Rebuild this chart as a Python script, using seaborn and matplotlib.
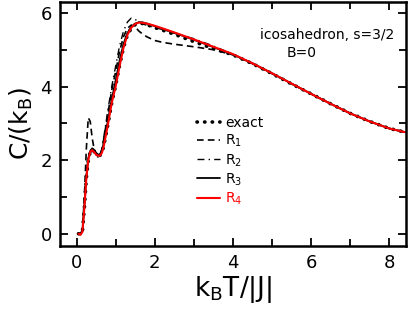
import numpy as np
import pandas as pd
import matplotlib
matplotlib.use("Agg")
import matplotlib.pyplot as plt
import seaborn as sns
from matplotlib.ticker import MultipleLocator
from matplotlib.lines import Line2D

T = [0.05, 0.1, 0.15, 0.2, 0.25, 0.3, 0.35, 0.4, 0.45, 0.5, 0.55, 0.6, 0.65, 0.7,
     0.8, 0.9, 1.0, 1.1, 1.2, 1.3, 1.4, 1.5, 1.6, 1.7, 1.8, 2.0, 2.2, 2.5, 3.0,
     3.5, 4.0, 4.5, 5.0, 5.5, 6.0, 6.5, 7.0, 7.5, 8.0, 8.4]

C_exact = [0.0, -0.02, 0.05, 0.7, 1.5, 2.0, 2.22, 2.28, 2.24, 2.17, 2.13, 2.13, 2.2,
           2.4, 2.95, 3.55, 4.02, 4.57, 5.05, 5.4, 5.58, 5.68, 5.72, 5.71, 5.68,
           5.6, 5.53, 5.42, 5.22, 5.03, 4.86, 4.62, 4.35, 4.07, 3.8, 3.53, 3.27,
           3.05, 2.86, 2.76]
C_R1 = [0.0, 0.0, 0.1, 1.0, 2.3, 3.15, 3.05, 2.6, 2.3, 2.15, 2.1, 2.15, 2.3, 2.6,
        3.25, 3.9, 4.4, 4.95, 5.35, 5.58, 5.67, 5.62, 5.5, 5.42, 5.35, 5.25, 5.2,
        5.15, 5.08, 5.0, 4.86, 4.62, 4.35, 4.07, 3.8, 3.53, 3.27, 3.05, 2.86, 2.76]
C_R2 = [0.0, 0.0, 0.08, 0.8, 1.6, 2.05, 2.2, 2.25, 2.2, 2.12, 2.08, 2.12, 2.3,
        2.65, 3.35, 4.0, 4.55, 5.1, 5.5, 5.75, 5.86, 5.82, 5.76, 5.7, 5.66, 5.6,
        5.55, 5.45, 5.3, 5.1, 4.88, 4.63, 4.36, 4.08, 3.8, 3.53, 3.27, 3.05,
        2.86, 2.76]
C_R3 = [0.0, -0.02, 0.06, 0.75, 1.55, 2.05, 2.25, 2.32, 2.28, 2.2, 2.15, 2.15,
        2.25, 2.5, 3.05, 3.65, 4.15, 4.7, 5.15, 5.45, 5.62, 5.71, 5.75, 5.74,
        5.71, 5.64, 5.57, 5.46, 5.27, 5.07, 4.87, 4.63, 4.36, 4.08, 3.8, 3.53,
        3.27, 3.05, 2.86, 2.76]
C_R4 = [0.0, -0.03, 0.05, 0.7, 1.5, 2.0, 2.22, 2.27, 2.22, 2.15, 2.12, 2.12, 2.2,
        2.4, 2.95, 3.55, 4.0, 4.55, 5.05, 5.4, 5.6, 5.7, 5.74, 5.73, 5.71, 5.65,
        5.58, 5.47, 5.28, 5.08, 4.88, 4.63, 4.36, 4.08, 3.8, 3.53, 3.27, 3.05,
        2.86, 2.76]

labels = ["exact", r"R$_1$", r"R$_2$", r"R$_3$", r"R$_4$"]

sns.set_theme(style="ticks")
plt.rcParams['font.family'] = ['DejaVu Sans']
plt.rcParams['mathtext.fontset'] = 'dejavusans'

fig = plt.figure(figsize=(4.09, 3.12), dpi=100)
ax = fig.add_axes([0.147, 0.212, 0.845, 0.782])

df = pd.DataFrame({"T": T, "exact": C_exact, "R1": C_R1, "R2": C_R2,
                   "R3": C_R3, "R4": C_R4})

sns.lineplot(data=df, x="T", y="exact", ax=ax, color="black", lw=2.6,
             linestyle=(0, (0.1, 2.0)), dash_capstyle="round", solid_capstyle="round")
sns.lineplot(data=df, x="T", y="R1", ax=ax, color="black", lw=1.2,
             linestyle=(0, (4, 2.5)))
sns.lineplot(data=df, x="T", y="R2", ax=ax, color="black", lw=1.0,
             linestyle=(0, (5, 3, 1, 3)))
sns.lineplot(data=df, x="T", y="R3", ax=ax, color="black", lw=1.3)
sns.lineplot(data=df, x="T", y="R4", ax=ax, color="#ff0000", lw=1.5)

ax.set_xlim(-0.42, 8.42)
ax.set_ylim(-0.33, 6.3)
ax.xaxis.set_major_locator(MultipleLocator(2))
ax.xaxis.set_minor_locator(MultipleLocator(1))
ax.yaxis.set_major_locator(MultipleLocator(2))
ax.yaxis.set_minor_locator(MultipleLocator(1))
ax.tick_params(which="both", direction="in", top=True, right=True, width=1.3,
               labelsize=13, pad=6, colors="black")
ax.tick_params(which="major", length=6)
ax.tick_params(which="minor", length=5)
for s in ax.spines.values():
    s.set_linewidth(1.8)
    s.set_color("black")

ax.set_xlabel(r"k$_\mathregular{B}$T/|J|", fontsize=19, labelpad=1, color="black")
ax.set_ylabel(r"C/(k$_\mathregular{B}$)", fontsize=18, labelpad=4, color="black")

ax.text(0.968, 0.865, "icosahedron, s=3/2", transform=ax.transAxes,
        fontsize=10, ha="right", va="center", color="black")
ax.text(0.70, 0.79, "B=0", transform=ax.transAxes, fontsize=10,
        ha="center", va="center", color="black")

handles = [
    Line2D([], [], color="black", lw=2.6, linestyle=(0, (0.1, 2.0)),
           dash_capstyle="round"),
    Line2D([], [], color="black", lw=1.2, linestyle=(0, (4, 2.5))),
    Line2D([], [], color="black", lw=1.0, linestyle=(0, (5, 3, 1, 3))),
    Line2D([], [], color="black", lw=1.3),
    Line2D([], [], color="#ff0000", lw=1.5),
]
leg = ax.legend(handles, labels, loc="upper left", bbox_to_anchor=(0.375, 0.56),
                frameon=False, fontsize=10, handlelength=1.65, handletextpad=0.4,
                labelspacing=0.2, borderpad=0)
for t, c in zip(leg.get_texts(), ["black"] * 4 + ["#ff0000"]):
    t.set_color(c)

fig.savefig("out.png", dpi=100)
